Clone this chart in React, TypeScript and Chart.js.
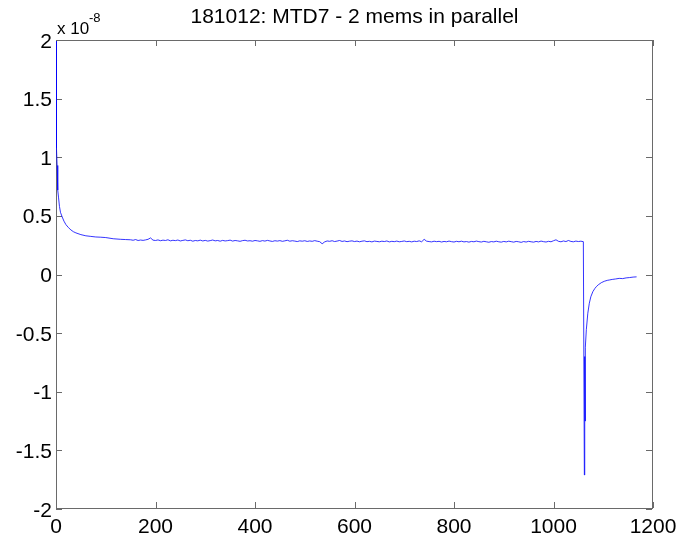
import React, { useEffect, useRef } from "react";
import { Chart, registerables } from "chart.js";

Chart.register(...registerables);

// Values in units of 1e-8
const titleText = "181012: MTD7 - 2 mems in parallel";
const xTickValues = [0, 200, 400, 600, 800, 1000, 1200];
const yTickValues = [-2, -1.5, -1, -0.5, 0, 0.5, 1, 1.5, 2];

const decayX = [0, 0.3, 0.6, 0.9, 1.2, 1.6, 2.2, 3, 4, 5, 7, 9, 12.5, 16, 20, 25, 30, 35, 40, 50, 60, 70, 80, 90, 100, 115, 130, 140];
const decayY = [1.99, 1.3, 1.6, 1.08, 1.55, 1.08, 0.93, 0.8, 0.72, 0.66, 0.58, 0.53, 0.49, 0.455, 0.425, 0.4, 0.38, 0.365, 0.355, 0.34, 0.33, 0.325, 0.32, 0.318, 0.315, 0.305, 0.3, 0.298];

const plateauStart = 150;
const plateauStep = 5;
const plateauY = [
  0.296, 0.292, 0.298, 0.29, 0.294, 0.291, 0.295, 0.3, 0.312, 0.293,
  0.29, 0.295, 0.288, 0.293, 0.29, 0.296, 0.287, 0.292, 0.289, 0.294,
  0.286, 0.291, 0.295, 0.288, 0.292, 0.284, 0.29, 0.287, 0.293, 0.286,
  0.291, 0.285, 0.289, 0.294, 0.287, 0.29, 0.284, 0.291, 0.286, 0.289,
  0.293, 0.285, 0.29, 0.287, 0.283, 0.289, 0.292, 0.286, 0.288, 0.284,
  0.29, 0.287, 0.283, 0.289, 0.285, 0.291, 0.286, 0.282, 0.288, 0.285,
  0.289, 0.283, 0.287, 0.292, 0.284, 0.288, 0.285, 0.281, 0.287, 0.284,
  0.288, 0.282, 0.286, 0.283, 0.289, 0.284, 0.28, 0.262, 0.278, 0.286,
  0.283, 0.288, 0.281, 0.285, 0.29, 0.282, 0.286, 0.28, 0.284, 0.287,
  0.281, 0.285, 0.279, 0.284, 0.287, 0.28, 0.283, 0.278, 0.285, 0.282,
  0.279, 0.284, 0.281, 0.286, 0.278, 0.283, 0.28, 0.285, 0.279, 0.282,
  0.286, 0.28, 0.283, 0.278, 0.284, 0.281, 0.287, 0.279, 0.3, 0.284,
  0.281, 0.278, 0.284, 0.28, 0.283, 0.277, 0.282, 0.279, 0.285, 0.28,
  0.277, 0.283, 0.279, 0.284, 0.278, 0.281, 0.276, 0.282, 0.279, 0.285,
  0.28, 0.277, 0.283, 0.279, 0.275, 0.281, 0.278, 0.284, 0.279, 0.276,
  0.282, 0.278, 0.284, 0.28, 0.276, 0.282, 0.279, 0.274, 0.281, 0.277,
  0.283, 0.279, 0.276, 0.282, 0.278, 0.285, 0.28, 0.277, 0.283, 0.279,
  0.288, 0.296, 0.283, 0.279, 0.286, 0.281, 0.29, 0.282, 0.279, 0.285,
  0.281, 0.284, 0.28,
];

const recoveryX = [1061, 1062, 1062.4, 1062.8, 1063.2, 1063.6, 1064, 1066, 1069, 1072, 1075, 1079, 1083, 1086, 1090, 1096, 1102, 1108, 1112, 1118, 1125, 1132, 1139, 1146, 1153, 1160, 1167];
const recoveryY = [0.28, -1.71, -0.72, -1.33, -0.7, -1.25, -0.62, -0.47, -0.33, -0.245, -0.19, -0.147, -0.12, -0.104, -0.088, -0.07, -0.058, -0.05, -0.047, -0.042, -0.038, -0.033, -0.035, -0.029, -0.026, -0.022, -0.02];

const FONT = '"Liberation Sans", Arial, Helvetica, sans-serif';

function buildPoints() {
  const pts: { x: number; y: number }[] = [];
  decayX.forEach((x, i) => pts.push({ x, y: decayY[i] }));
  plateauY.forEach((y, i) => pts.push({ x: plateauStart + i * plateauStep, y }));
  recoveryX.forEach((x, i) => pts.push({ x, y: recoveryY[i] }));
  return pts;
}

const framePlugin = {
  id: "matlabFrame",
  beforeDatasetsDraw(chart: any) {
    const { ctx, chartArea: a, scales } = chart;
    const xs = scales.x;
    const ys = scales.y;
    ctx.save();
    ctx.fillStyle = "#6a6a6a";
    const L = Math.round(a.left);
    const R = Math.round(a.right) - 1;
    const T = Math.round(a.top);
    const B = Math.round(a.bottom) - 1;
    const tl = 6;
    ctx.fillRect(L, T, R - L + 1, 1);
    ctx.fillRect(L, B, R - L + 1, 1);
    ctx.fillRect(L, T, 1, B - T + 1);
    ctx.fillRect(R, T, 1, B - T + 1);
    xTickValues.forEach((v) => {
      const px = Math.round(xs.getPixelForValue(v));
      ctx.fillRect(px, B - tl, 1, tl);
      ctx.fillRect(px, T, 1, tl);
    });
    yTickValues.forEach((v) => {
      const py = Math.round(ys.getPixelForValue(v));
      ctx.fillRect(L, py, tl, 1);
      ctx.fillRect(R - tl, py, tl, 1);
    });
    ctx.restore();
  },
  afterDraw(chart: any) {
    const { ctx, chartArea: a, scales } = chart;
    ctx.save();
    ctx.fillStyle = "#000";
    ctx.textBaseline = "alphabetic";
    ctx.font = `21px ${FONT}`;
    ctx.textAlign = "center";
    xTickValues.forEach((v) => {
      ctx.fillText(String(v), scales.x.getPixelForValue(v), 533);
    });
    ctx.textAlign = "right";
    yTickValues.forEach((v) => {
      ctx.fillText(String(v), 52, scales.y.getPixelForValue(v) + 7.5);
    });
    ctx.textAlign = "center";
    ctx.fillText(titleText, (a.left + a.right) / 2, 23);
    ctx.textAlign = "left";
    ctx.font = `17px ${FONT}`;
    ctx.fillText("x 10", 57, 34);
    ctx.font = `13px ${FONT}`;
    ctx.fillText("-8", 89, 22);
    ctx.restore();
  },
};

export default function App() {
  const ref = useRef<HTMLCanvasElement>(null);
  useEffect(() => {
    if (!ref.current) return;
    const chart = new Chart(ref.current, {
      type: "line",
      data: {
        datasets: [
          {
            data: buildPoints(),
            borderColor: "#0000ff",
            borderWidth: 0.8,
            pointRadius: 0,
            tension: 0,
            fill: false,
          },
        ],
      },
      options: {
        responsive: false,
        animation: false,
        devicePixelRatio: 1,
        layout: { padding: { left: 0, top: 40, right: 28, bottom: 0 } },
        plugins: { legend: { display: false }, tooltip: { enabled: false }, title: { display: false } },
        scales: {
          x: {
            type: "linear",
            min: 0,
            max: 1200,
            grid: { display: false },
            border: { display: false },
            ticks: { display: false, stepSize: 200 },
            afterFit: (s: any) => {
              s.height = 33;
            },
          },
          y: {
            type: "linear",
            min: -2,
            max: 2,
            grid: { display: false },
            border: { display: false },
            ticks: { display: false, stepSize: 0.5 },
            afterFit: (s: any) => {
              s.width = 56;
            },
          },
        },
      },
      plugins: [framePlugin],
    });
    return () => chart.destroy();
  }, []);
  return (
    <div style={{ position: "fixed", left: 0, top: 0, width: 681, height: 542, background: "#fff" }}>
      <canvas ref={ref} width={681} height={542} style={{ display: "block" }} />
    </div>
  );
}
